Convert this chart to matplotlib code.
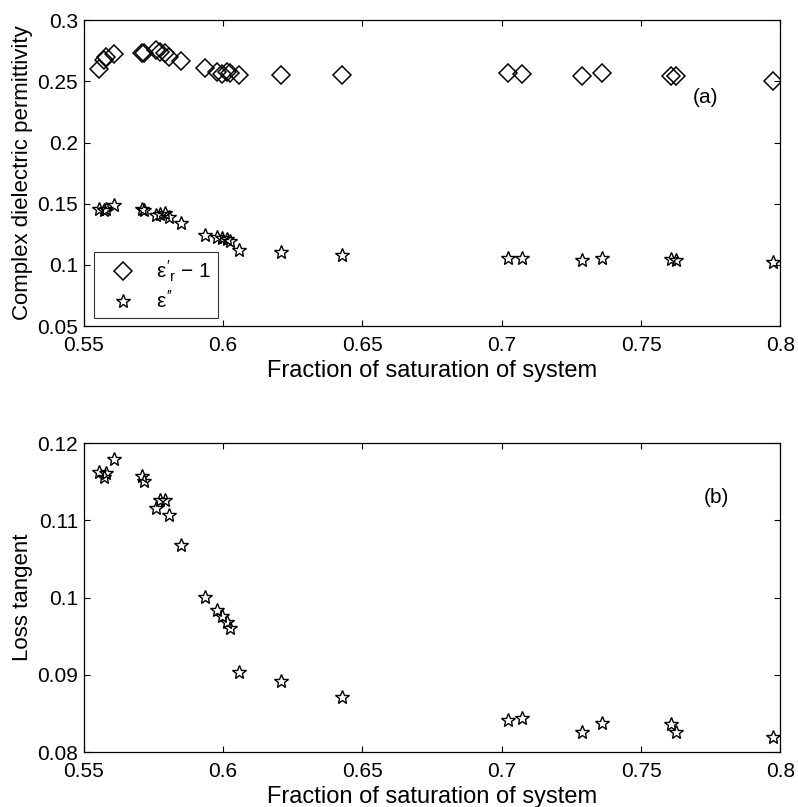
import matplotlib
matplotlib.use('Agg')
import matplotlib.pyplot as plt

plt.rcParams['font.family'] = ['Liberation Sans', 'DejaVu Sans']
plt.rcParams['mathtext.fontset'] = 'custom'
plt.rcParams['mathtext.rm'] = 'Liberation Sans'
plt.rcParams['mathtext.it'] = 'Liberation Sans'

# fraction of saturation (shared by both panels)
sat = [0.5556, 0.5572, 0.5579, 0.5608, 0.5710, 0.5717, 0.5760, 0.5775, 0.5790,
       0.5805, 0.5848, 0.5935, 0.5978, 0.5995, 0.6015, 0.6024, 0.6058, 0.6207,
       0.6428, 0.7023, 0.7072, 0.7288, 0.7360, 0.7608, 0.7625, 0.7972]

# real part minus one
eps_real_m1 = [0.2600, 0.2673, 0.2698, 0.2722, 0.2730, 0.2728, 0.2755, 0.2739, 0.2730,
               0.2698, 0.2665, 0.2608, 0.2575, 0.2559, 0.2575, 0.2565, 0.2551, 0.2551,
               0.2551, 0.2567, 0.2560, 0.2542, 0.2567, 0.2542, 0.2540, 0.2502]

# imaginary part
eps_imag = [0.1456, 0.1448, 0.1456, 0.1489, 0.1456, 0.1450, 0.1407, 0.1415, 0.1423,
            0.1391, 0.1342, 0.1243, 0.1227, 0.1219, 0.1210, 0.1194, 0.1121, 0.1105,
            0.1080, 0.1057, 0.1060, 0.1036, 0.1053, 0.1050, 0.1038, 0.1026]

# loss tangent
loss_tan = [0.1162, 0.1156, 0.1161, 0.1179, 0.1157, 0.1151, 0.1116, 0.1126, 0.1126,
            0.1107, 0.1068, 0.1001, 0.0984, 0.0976, 0.0968, 0.0961, 0.0904, 0.0892,
            0.0871, 0.0841, 0.0844, 0.0826, 0.0838, 0.0837, 0.0826, 0.0820]

x_ticks = [0.55, 0.6, 0.65, 0.7, 0.75, 0.8]
x_labels = ['0.55', '0.6', '0.65', '0.7', '0.75', '0.8']
top_ticks = [0.05, 0.1, 0.15, 0.2, 0.25, 0.3]
top_labels = ['0.05', '0.1', '0.15', '0.2', '0.25', '0.3']
bot_ticks = [0.08, 0.09, 0.1, 0.11, 0.12]
bot_labels = ['0.08', '0.09', '0.1', '0.11', '0.12']

fig = plt.figure(figsize=(7.98, 8.07), dpi=100)
ax1 = fig.add_axes([0.105, 0.596, 0.873, 0.379])
ax2 = fig.add_axes([0.105, 0.068, 0.873, 0.383])

fs = 15
for ax in (ax1, ax2):
    ax.tick_params(direction='in', top=True, right=True, labelsize=fs, length=4,
                   width=0.8)
    ax.tick_params(axis='x', pad=7)
    ax.tick_params(axis='y', pad=4)
    ax.set_xlim(0.55, 0.8)
    ax.set_xticks(x_ticks)
    ax.set_xticklabels(x_labels)
    ax.set_xlabel('Fraction of saturation of system', fontsize=17, labelpad=4)
    for sp in ax.spines.values():
        sp.set_linewidth(0.9)

ax1.plot(sat, eps_real_m1, linestyle='none', marker='D', markersize=9,
         markerfacecolor='none', markeredgecolor='black', markeredgewidth=1.1,
         label=r"$\epsilon'_r$ $-$ 1")
ax1.plot(sat, eps_imag, linestyle='none', marker='*', markersize=10,
         markerfacecolor='none', markeredgecolor='black', markeredgewidth=1.0,
         label=r"$\epsilon''$")
ax1.set_ylim(0.05, 0.3)
ax1.set_yticks(top_ticks)
ax1.set_yticklabels(top_labels)
ax1.set_ylabel('Complex dielectric permittivity', fontsize=16, labelpad=3)
ax1.text(0.773, 0.237, '(a)', fontsize=fs, ha='center', va='center')
leg = ax1.legend(loc='lower left', bbox_to_anchor=(0.014, 0.026), borderaxespad=0,
                 fancybox=False, edgecolor='black', fontsize=fs, handlelength=2.2,
                 handletextpad=0.5, borderpad=0.3, labelspacing=0.3)
leg.get_frame().set_linewidth(0.8)

ax2.plot(sat, loss_tan, linestyle='none', marker='*', markersize=10,
         markerfacecolor='none', markeredgecolor='black', markeredgewidth=1.0)
ax2.set_ylim(0.08, 0.12)
ax2.set_yticks(bot_ticks)
ax2.set_yticklabels(bot_labels)
ax2.set_ylabel('Loss tangent', fontsize=16, labelpad=3)
ax2.text(0.777, 0.1129, '(b)', fontsize=fs, ha='center', va='center')

fig.savefig('out.png', dpi=100)
